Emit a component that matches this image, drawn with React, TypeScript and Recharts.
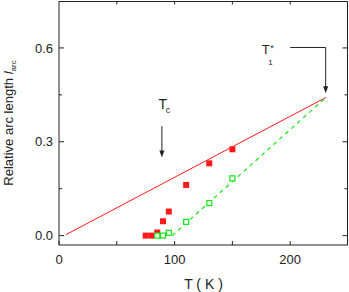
import {
  ComposedChart,
  ReferenceDot,
  ReferenceLine,
  Scatter,
  XAxis,
  YAxis,
} from 'recharts';

// temperatures (K) and relative arc length
const redT = [75, 80, 85, 90, 95, 110, 130, 150];
const redArc = [0, 0, 0.01, 0.046, 0.077, 0.162, 0.231, 0.276];
const greenT = [85, 90, 95, 110, 130, 150];
const greenArc = [0, 0, 0.009, 0.044, 0.104, 0.183];

// straight guide lines (end points)
const redLineT = [6, 231];
const redLineArc = [0.003, 0.442];
const greenLineT = [98, 231];
const greenLineArc = [0, 0.442];

const xTicks = [0, 50, 100, 150, 200];
const xLabels = [0, 100, 200];
const yTicks = [0, 0.15, 0.3, 0.45, 0.6];
const yLabels = [0, 0.3, 0.6];

const W = 349;
const H = 292;
const M = { top: 1, right: 1, left: 0, bottom: 0 };
const X_AXIS_H = 47;
// frame edges, snapped to the pixel grid
const FRAME_TOP = M.top + 0.5;
const FRAME_RIGHT = W - M.right - 0.5;
const FRAME_BOTTOM = H - X_AXIS_H - M.bottom;

const FONT = '"Liberation Sans", Arial, sans-serif';
const INK = '#222';
const RED = '#ff1a1a';
const GREEN = '#14e614';

const zip = (xs: number[], ys: number[]) => xs.map((x, i) => ({ t: x, arc: ys[i] }));

const redData = zip(redT, redArc);
const greenData = zip(greenT, greenArc);
const redLine = zip(redLineT, redLineArc);
const greenLine = zip(greenLineT, greenLineArc);

const isMajor = (v: number, list: number[]) => list.some((m) => Math.abs(m - v) < 1e-6);

// bottom tick + its mirror on the top frame
function BottomTick(props: any) {
  const { x, y, payload } = props;
  const v = payload.value;
  return (
    <g>
      <line x1={x} x2={x} y1={y} y2={y - 4} stroke={INK} />
      {v > 0 && <line x1={x} x2={x} y1={FRAME_TOP} y2={FRAME_TOP + 3} stroke={INK} />}
      {isMajor(v, xLabels) && (
        <text x={x} y={y + 19} textAnchor="middle" fontSize={13} fontFamily={FONT} fill={INK}>
          {v}
        </text>
      )}
    </g>
  );
}

// left tick + its mirror on the right frame; the 0 tick also closes the box
function LeftTick(props: any) {
  const { x, y, payload } = props;
  const v = payload.value;
  const major = isMajor(v, yLabels);
  const len = major ? 5 : 3;
  return (
    <g>
      <line x1={x} x2={x + len} y1={y} y2={y} stroke={INK} />
      <line x1={FRAME_RIGHT} x2={FRAME_RIGHT - len} y1={y} y2={y} stroke={INK} />
      {v === 0 && (
        <path
          d={`M${x},${FRAME_TOP} H${FRAME_RIGHT} V${FRAME_BOTTOM}`}
          fill="none"
          stroke={INK}
          strokeWidth={1}
        />
      )}
      {major && (
        <text x={x - 6} y={y + 4.6} textAnchor="end" fontSize={13} fontFamily={FONT} fill={INK}>
          {v.toFixed(1)}
        </text>
      )}
    </g>
  );
}

function FilledSquare(props: any) {
  const { cx, cy } = props;
  return <rect x={cx - 3} y={cy - 3} width={6} height={6} fill={RED} />;
}

function OpenSquare(props: any) {
  const { cx, cy } = props;
  return <rect x={cx - 2.5} y={cy - 2.5} width={5} height={5} fill="#fff" stroke={GREEN} strokeWidth={1.2} />;
}

function NoDot() {
  return <g />;
}

function ArrowHead(props: any) {
  const { cx, cy } = props;
  return <path d={`M${cx - 2.5},${cy - 7} L${cx + 2.5},${cy - 7} L${cx},${cy} Z`} fill={INK} />;
}

function TcLabel(props: any) {
  const { cx, cy } = props;
  return (
    <g fontFamily={FONT} fill={INK}>
      <text x={cx - 3.5} y={cy - 17.5} fontSize={14}>T</text>
      <text x={cx + 3.8} y={cy - 13} fontSize={9}>c</text>
    </g>
  );
}

function T1Label(props: any) {
  const { cx, cy } = props;
  return (
    <g fontFamily={FONT} fill={INK}>
      <text x={cx - 28.5} y={cy + 6.2} fontSize={13}>T</text>
      <text x={cx - 22} y={cy + 17.8} fontSize={8}>1</text>
      <text x={cx - 20} y={cy + 3.8} fontSize={9}>*</text>
    </g>
  );
}

function YLabel(props: any) {
  const vb = props.viewBox || {};
  const cy = (vb.y || 0) + (vb.height || 0) / 2;
  const bx = 13;
  return (
    <text
      x={bx}
      y={cy}
      transform={`rotate(-90, ${bx}, ${cy})`}
      textAnchor="middle"
      fontSize={13}
      fontFamily={FONT}
      fill={INK}
    >
      Relative arc length{' '}
      <tspan fontStyle="italic">l</tspan>
      <tspan fontSize={8} dy={3}>arc</tspan>
    </text>
  );
}

function XLabel(props: any) {
  const vb = props.viewBox || {};
  const cx = (vb.x || 0) + (vb.width || 0) / 2;
  return (
    <text x={cx} y={289} textAnchor="middle" fontSize={14} fontFamily={FONT} fill={INK}>
      T ( K )
    </text>
  );
}

export default function App() {
  return (
    <div style={{ position: 'absolute', left: 0, top: 0, background: '#fff' }}>
      <ComposedChart width={W} height={H} margin={M} style={{ overflow: 'visible' }}>
        <XAxis
          type="number"
          dataKey="t"
          domain={[0, 250]}
          ticks={xTicks}
          height={X_AXIS_H}
          tickSize={0}
          tickMargin={0}
          tickLine={false}
          stroke={INK}
          tick={<BottomTick />}
          interval={0}
          allowDataOverflow
          label={<XLabel />}
        />
        <YAxis
          type="number"
          dataKey="arc"
          domain={[-0.03, 0.75]}
          ticks={yTicks}
          width={59}
          tickSize={0}
          tickMargin={0}
          tickLine={false}
          stroke={INK}
          tick={<LeftTick />}
          interval={0}
          allowDataOverflow
          label={<YLabel />}
        />

        <Scatter
          data={redLine}
          line={{ stroke: RED, strokeWidth: 1 }}
          shape={<NoDot />}
          isAnimationActive={false}
        />
        <Scatter
          data={greenLine}
          line={{ stroke: GREEN, strokeWidth: 1.2, strokeDasharray: '4 4' }}
          shape={<NoDot />}
          isAnimationActive={false}
        />
        <Scatter data={redData} shape={<FilledSquare />} isAnimationActive={false} />
        <Scatter data={greenData} shape={<OpenSquare />} isAnimationActive={false} />

        {/* Tc arrow */}
        <ReferenceLine segment={[{ x: 89, y: 0.35 }, { x: 89, y: 0.26 }]} stroke={INK} />
        <ReferenceDot x={89} y={0.25} shape={<ArrowHead />} />
        <ReferenceDot x={89} y={0.35} shape={<TcLabel />} />

        {/* T1* arrow */}
        <ReferenceLine segment={[{ x: 200, y: 0.6015 }, { x: 230.7, y: 0.6015 }]} stroke={INK} />
        <ReferenceLine segment={[{ x: 230.7, y: 0.6015 }, { x: 230.7, y: 0.465 }]} stroke={INK} />
        <ReferenceDot x={230.7} y={0.455} shape={<ArrowHead />} />
        <ReferenceDot x={200} y={0.6015} shape={<T1Label />} />
      </ComposedChart>
    </div>
  );
}
